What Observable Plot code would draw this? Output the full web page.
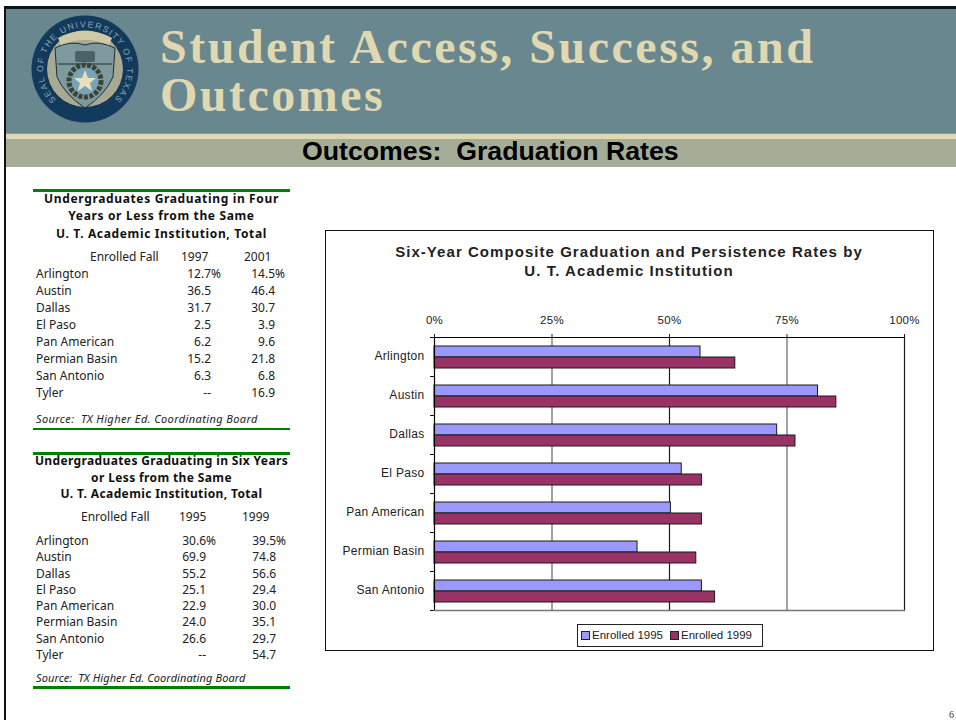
<!DOCTYPE html>
<html><head><meta charset="utf-8">
<script src="https://cdn.jsdelivr.net/npm/d3@7"></script>
<script src="https://cdn.jsdelivr.net/npm/@observablehq/plot@0.6"></script>
<style>
html,body{margin:0;padding:0;background:#fff}
#page{position:relative;width:956px;height:720px;overflow:hidden;font-family:"Liberation Sans",Arial,sans-serif}
.abs{position:absolute;white-space:pre}
.tb{font:12px "Noto Sans",sans-serif;color:#222;line-height:16px}
</style></head><body><div id="page"></div>
<script>
// ---- chart data
const institutions = ["Arlington","Austin","Dallas","El Paso","Pan American","Permian Basin","San Antonio"];
const enrolled1995 = [56.6,81.6,72.9,52.6,50.3,43.2,56.9];
const enrolled1999 = [64.0,85.5,76.8,56.9,56.9,55.7,59.7];
const seriesNames = ["Enrolled 1995","Enrolled 1999"];
const seriesColors = ["#9999ff","#993366"];
const xTicks = [0,25,50,75,100];
// ---- table data
const tableRows = ["Arlington","Austin","Dallas","El Paso","Pan American","Permian Basin","San Antonio","Tyler"];
const fourYear1997 = ["12.7%","36.5","31.7","2.5","6.2","15.2","6.3","--"];
const fourYear2001 = ["14.5%","46.4","30.7","3.9","9.6","21.8","6.8","16.9"];
const sixYear1995 = ["30.6%","69.9","55.2","25.1","22.9","24.0","26.6","--"];
const sixYear1999 = ["39.5%","74.8","56.6","29.4","30.0","35.1","29.7","54.7"];

const page = document.getElementById("page");
function put(text, left, top, css="", cls="abs"){
  const d = document.createElement("div");
  d.className = cls; d.textContent = text;
  d.style.cssText = `left:${left}px;top:${top}px;${css}`;
  page.appendChild(d); return d;
}
function box(left, top, w, h, css){ return put("", left, top, `width:${w}px;height:${h}px;${css}`); }

// frame + banner
box(4,6,952,3,"background:#0c1418");
box(4,6,2,714,"background:#111");
box(6,9,950,125,"background:#69878f");
box(6,133,950,1,"background:#8d9a93");
box(6,134,950,5,"background:#e0d8b0");
box(6,139,950,28,"background:#a6ad96");
const titleCss = 'font:bold 48px/48px "Liberation Serif",serif;color:#e0d8b0;letter-spacing:2.5px';
put("Student Access, Success, and",160,23,titleCss);
put("Outcomes",160,71,titleCss);
put("Outcomes:  Graduation Rates",302,137,'font:bold 26.7px/29px "Liberation Sans",sans-serif;color:#000;letter-spacing:0');

// seal
const seal = document.createElement("div");
seal.className = "abs"; seal.style.cssText = "left:30px;top:14px;width:110px;height:110px";
seal.innerHTML = `<svg width="110" height="110" viewBox="-55 -55 110 110">
<defs><path id="ringTop" d="M-22 36 A42 42 0 1 1 22 36"/></defs>
<circle r="53.5" fill="#123a5c"/><circle r="38.5" fill="#a8a993" stroke="#0f2f48"/>
<text font-family="Liberation Sans" font-size="8.6" fill="#8fa7b4" letter-spacing="1.5"><textPath href="#ringTop" startOffset="50%" text-anchor="middle">SEAL OF THE UNIVERSITY OF TEXAS</textPath></text>
<path d="M-30 -21 Q-14 -29 0 -24 Q14 -29 30 -21 L28 8 Q20 26 0 39 Q-20 26 -28 8 Z" fill="#7e9a9e" stroke="#1b2f38" stroke-width="1"/>
<path d="M-27 -5 H27" stroke="#1b2f38" stroke-width="1"/>
<path d="M-27 -31 Q0 -46 27 -31 L24 -24 Q0 -34 -24 -24 Z" fill="#cfc9a8"/>
<rect x="-10" y="-18" width="20" height="11" rx="2" fill="#4f6168"/>
<circle cy="12" r="16" fill="#7aa3b1" stroke="#3a4436" stroke-width="5" stroke-dasharray="4 1.5"/>
<path d="M0 1 L3 9 L11 9 L5 14 L7 22 L0 17 L-7 22 L-5 14 L-11 9 L-3 9 Z" fill="#e5e0c2"/>
</svg>`;
page.appendChild(seal);

// tables
function table(cfg){
  box(33,cfg.top,257,2.6,"background:#008000");
  box(33,cfg.bottom,257,2.6,"background:#008000");
  cfg.title.forEach((t,i)=>{
    put(t,33,cfg.titleY[i],`width:257px;text-align:center;font:bold 12px/16px "Noto Sans",sans-serif;color:#111;letter-spacing:${cfg.titleLs}px`);
  });
  put("Enrolled Fall",cfg.efLeft,cfg.headY,"",'abs tb');
  put(cfg.years[0],cfg.yearX[0],cfg.headY,"",'abs tb');
  put(cfg.years[1],cfg.yearX[1],cfg.headY,"",'abs tb');
  tableRows.forEach((r,i)=>{
    const y = cfg.rowY[i];
    put(r,36,y,"",'abs tb');
    cfg.cols.forEach((col,c)=>{
      const v = col[i], pct = v.endsWith("%"), n = v.replace("%","");
      put(n,cfg.valRight[c]-60,y,"width:60px;text-align:right",'abs tb');
      if(pct) put("%",cfg.valRight[c],y,"",'abs tb');
    });
  });
  put("Source:  TX Higher Ed. Coordinating Board",36,cfg.srcY,`font:italic 11px/14px "Noto Sans",sans-serif;color:#222;letter-spacing:${cfg.srcLs}px`);
}
table({top:189,bottom:427.5,titleLs:.65,srcLs:.4,title:["Undergraduates Graduating in Four","Years or Less from the Same","U. T. Academic Institution, Total"],
  titleY:[191,208,226],efLeft:90,years:["1997","2001"],yearX:[181,244],headY:249,
  rowY:[266,283,300,317,334,351,368,385],cols:[fourYear1997,fourYear2001],valRight:[211,275],srcY:412});
table({top:452,bottom:686,titleLs:.37,srcLs:.1,title:["Undergraduates Graduating in Six Years","or Less from the Same","U. T. Academic Institution, Total"],
  titleY:[453,470,486],efLeft:81,years:["1995","1999"],yearX:[179,242],headY:509,
  rowY:[533,549,566,582,598,614,631,647],cols:[sixYear1995,sixYear1999],valRight:[206,276],srcY:671});

// chart panel
box(325,230,607,418.5,"border:1px solid #111;background:#fff");
const rows = institutions.flatMap((inst,i)=>[
  {inst, series:seriesNames[0], value:enrolled1995[i]},
  {inst, series:seriesNames[1], value:enrolled1999[i]}
]);
const last = institutions[institutions.length-1], first = institutions[0];
const chart = Plot.plot({
  width:608, height:419,
  marginTop:107, marginBottom:39, marginLeft:109, marginRight:29,
  style:{background:"transparent", fontFamily:'"Liberation Sans",Arial,sans-serif', fontSize:"11.5px", color:"#222", letterSpacing:".3px"},
  x:{domain:[0,100], label:null},
  y:{domain:seriesNames, axis:null, paddingInner:0, paddingOuter:.72, label:null},
  fy:{domain:institutions, padding:0, label:null, axis:null},
  color:{domain:seriesNames, range:seriesColors},
  marks:[
    Plot.ruleX(xTicks.slice(1),{x:d=>d, stroke:d=>d%50===0?"#1c1c1c":"#666", strokeWidth:1.2}),
    Plot.barX(rows,{x:"value", y:"series", fy:"inst", fill:"series", stroke:"#1a1a1a", strokeWidth:1}),
    Plot.ruleX([0],{stroke:"#000", strokeWidth:1.2}),
    Plot.frame({anchor:"top", stroke:"#111", insetLeft:-4, insetRight:470}),
    Plot.frame({anchor:"bottom", stroke:"#111", insetLeft:-4, insetRight:470, fy:()=>last}),
    Plot.frame({anchor:"top", stroke:"#000", strokeWidth:1.2, fy:()=>first}),
    Plot.frame({anchor:"bottom", stroke:"#777", strokeWidth:1.6, fy:()=>last}),
    Plot.axisX({anchor:"top", ticks:xTicks, tickFormat:d=>d+"%", tickSize:4, tickPadding:10, label:null, stroke:"#222"}),
    Plot.axisFy({anchor:"left", tickSize:0, tickPadding:10, label:null, fontSize:12, dy:-1})
  ]
});
chart.style.position="absolute"; chart.style.left="325px"; chart.style.top="230px";
page.appendChild(chart);
const ctCss='width:608px;text-align:center;font:bold 15px/19px "Liberation Sans",sans-serif;color:#222;letter-spacing:1.05px';
put("Six-Year Composite Graduation and Persistence Rates by",325,242,ctCss);
put("U. T. Academic Institution",325,261,ctCss);

// legend
box(577,624,184,21,"border:1px solid #222;background:#fff");
seriesNames.forEach((s,i)=>{
  const sx = i===0?581:670;
  box(sx,631,7,7,`background:${seriesColors[i]};border:1px solid #222`);
  put(s,sx+11,628,'font:11.5px/14px "Liberation Sans",sans-serif;color:#222');
});
put("6",949,710,'font:10px/10px "Liberation Serif",serif;color:#333');
</script></body></html>
